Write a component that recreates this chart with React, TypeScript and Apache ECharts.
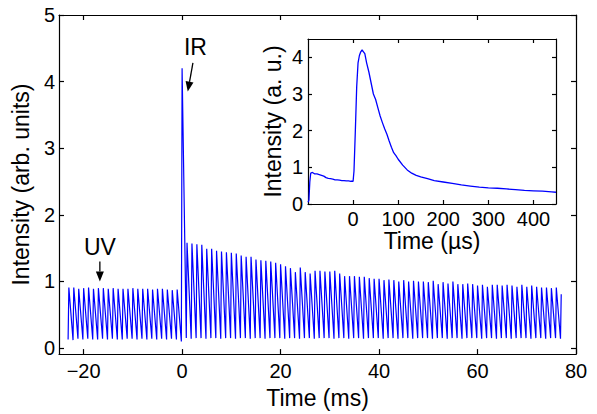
import React, { useEffect, useRef } from "react";
import * as echarts from "echarts";

// ---------- data ----------
// Main trace: one laser pulse every PULSE_PERIOD ms, first at PULSE_START ms
const PULSE_START = -23;
const PULSE_PERIOD = 1;
// peak heights before the IR pulse (t = -23 .. -1 ms)
const preIRPeaks = [
  0.91, 0.91, 0.89, 0.9, 0.91, 0.89, 0.9, 0.9, 0.89, 0.9, 0.89, 0.89, 0.89, 0.9, 0.89,
  0.89, 0.89, 0.88, 0.89, 0.89, 0.88, 0.87, 0.88,
];
// peak at t = 0 ms (IR)
const irPeak = 4.2;
// peak heights after the IR pulse (t = 1 .. 77 ms)
const postIRPeaks = [
  1.58, 1.57, 1.56, 1.55, 1.49, 1.49, 1.46, 1.45, 1.44, 1.43, 1.42, 1.39, 1.37, 1.37, 1.33,
  1.32, 1.31, 1.3, 1.28, 1.26, 1.23, 1.2, 1.14, 1.21, 1.14, 1.12, 1.16, 1.16, 1.15, 1.15,
  1.16, 1.12, 1.08, 1.08, 1.08, 1.07, 1.07, 1.05, 1.04, 1.04, 1.02, 1.03, 1.02, 1.0, 1.02,
  1.0, 1.01, 1.0, 1.0, 0.99, 1.01, 0.96, 0.99, 0.97, 1.0, 0.96, 0.96, 0.97, 0.96, 0.94,
  0.95, 0.92, 0.95, 0.95, 0.94, 0.95, 0.94, 0.92, 0.95, 0.92, 0.94, 0.92, 0.91, 0.91, 0.9,
  0.91, 0.81,
];
// trough reached just before each pulse
const troughs = [
  0.13, 0.12, 0.14, 0.13, 0.14, 0.13, 0.13, 0.14, 0.13, 0.14, 0.13, 0.13, 0.14, 0.14, 0.13,
  0.14, 0.13, 0.14, 0.13, 0.14, 0.13, 0.14, 0.13, 0.1, 0.15, 0.14, 0.15, 0.15, 0.14, 0.15,
  0.15, 0.14, 0.15, 0.15, 0.14, 0.15, 0.15, 0.14, 0.15, 0.15, 0.14, 0.15, 0.15, 0.15, 0.14,
  0.15, 0.15, 0.14, 0.15, 0.15, 0.14, 0.15, 0.15, 0.15, 0.14, 0.15, 0.15, 0.14, 0.15, 0.15,
  0.14, 0.15, 0.15, 0.15, 0.14, 0.15, 0.15, 0.14, 0.15, 0.15, 0.14, 0.15, 0.15, 0.15, 0.14,
  0.15, 0.15, 0.14, 0.15, 0.15, 0.14, 0.15, 0.15, 0.15, 0.14, 0.15, 0.15, 0.14, 0.15, 0.15,
  0.14, 0.15, 0.15, 0.15, 0.14, 0.15, 0.15, 0.14, 0.15, 0.15, 0.14,
];

// Inset trace: time (µs) and intensity (a. u.)
const insetTime = [
  -100, -98, -96, -94, -90, -85, -80, -75, -70, -65, -60, -55, -50, -45, -40, -35, -30, -25,
  -20, -15, -10, -5, 0, 2, 5, 8, 11, 14, 17, 20, 23, 26, 30, 35, 40, 45, 50, 55, 60, 65, 70,
  75, 80, 85, 90, 95, 100, 110, 120, 130, 140, 150, 165, 180, 200, 220, 240, 260, 280, 300,
  320, 340, 360, 380, 400, 420, 440, 450,
];
const insetIntensity = [
  0.05, 0.1, 0.6, 0.84, 0.86, 0.82, 0.82, 0.8, 0.78, 0.76, 0.72, 0.7, 0.69, 0.68, 0.66, 0.66,
  0.65, 0.64, 0.64, 0.63, 0.63, 0.62, 0.62, 0.9, 2.0, 3.2, 3.85, 4.05, 4.15, 4.2, 4.15, 4.1,
  3.85, 3.6, 3.3, 3.0, 2.85, 2.62, 2.4, 2.22, 2.05, 1.9, 1.72, 1.55, 1.4, 1.32, 1.22, 1.06,
  0.93, 0.84, 0.78, 0.74, 0.69, 0.64, 0.6, 0.56, 0.52, 0.49, 0.46, 0.44, 0.43, 0.41, 0.39,
  0.37, 0.36, 0.35, 0.33, 0.32,
];

const mainXTicks = [-20, 0, 20, 40, 60, 80];
const mainYTicks = [0, 1, 2, 3, 4, 5];
const insetXTicks = [0, 100, 200, 300, 400];
const insetYTicks = [0, 1, 2, 3, 4];

const FONT = "'Liberation Sans', Arial, Helvetica, sans-serif";
const FS = 20;
const NAME_FS = 23;

function fmt(v: number) {
  return String(v).replace("-", "\u2212");
}

export default function App() {
  const ref = useRef<HTMLDivElement>(null);
  useEffect(() => {
    const chart = echarts.init(ref.current!, null, { renderer: "svg" });

    const peaks = [...preIRPeaks, irPeak, ...postIRPeaks];
    const mainData: number[][] = [];
    peaks.forEach((pk, i) => {
      const t = PULSE_START + i * PULSE_PERIOD;
      mainData.push([t - 0.15, troughs[i]]);
      mainData.push([t, pk]);
    });
    const insetData = insetTime.map((t, i) => [t, insetIntensity[i]]);

    const lineStyle = { color: "#000", width: 1.2 };
    const mkAxis = (
      grid: number,
      min: number,
      max: number,
      ticks: number[],
      pos: string,
      labels: boolean,
      margin: number,
      extra: any = {}
    ) => ({
      type: "value",
      gridIndex: grid,
      min,
      max,
      position: pos,
      axisLine: { show: true, onZero: false, lineStyle },
      axisTick: { show: true, inside: true, length: grid === 0 ? 5 : 4, customValues: ticks, lineStyle },
      axisLabel: {
        show: labels,
        customValues: ticks,
        formatter: fmt,
        color: "#000",
        fontSize: FS,
        fontFamily: FONT,
        margin,
      },
      splitLine: { show: false },
      ...extra,
    });
    const nameStyle = { color: "#000", fontSize: NAME_FS, fontFamily: FONT };

    chart.setOption({
      animation: false,
      backgroundColor: "#fff",
      grid: [
        { left: 59, top: 15, width: 517, height: 344, containLabel: false },
        { left: 308, top: 39, width: 248, height: 165, containLabel: false },
      ],
      xAxis: [
        mkAxis(0, -25, 80, mainXTicks, "bottom", true, 7, {
          name: "Time (ms)",
          nameLocation: "middle",
          nameGap: 28,
          nameTextStyle: nameStyle,
        }),
        mkAxis(0, -25, 80, mainXTicks, "top", false, 7),
        mkAxis(1, -100, 450, insetXTicks, "bottom", true, 5, {
          name: "Time (\u00b5s)",
          nameLocation: "middle",
          nameGap: 19,
          nameTextStyle: nameStyle,
        }),
        mkAxis(1, -100, 450, insetXTicks, "top", false, 5),
      ],
      yAxis: [
        mkAxis(0, -0.09, 5, mainYTicks, "left", true, 4, {
          name: "Intensity (arb. units)",
          nameLocation: "middle",
          nameGap: 24,
          nameTextStyle: nameStyle,
        }),
        mkAxis(0, -0.09, 5, mainYTicks, "right", false, 4),
        mkAxis(1, 0, 4.5, insetYTicks, "left", true, 5, {
          name: "Intensity (a. u.)",
          nameLocation: "middle",
          nameGap: 24,
          nameTextStyle: nameStyle,
        }),
        mkAxis(1, 0, 4.5, insetYTicks, "right", false, 5),
      ],
      series: [
        {
          type: "line",
          xAxisIndex: 0,
          yAxisIndex: 0,
          data: mainData,
          showSymbol: false,
          symbol: "none",
          lineStyle: { color: "#0000ff", width: 1.2 },
        },
        {
          type: "line",
          xAxisIndex: 2,
          yAxisIndex: 2,
          data: insetData,
          showSymbol: false,
          symbol: "none",
          lineStyle: { color: "#0000ff", width: 1.3 },
        },
      ],
    });

    const px = (x: number, y: number) => chart.convertToPixel({ xAxisIndex: 0, yAxisIndex: 0 }, [x, y]) as number[];
    const arrow = (tail: number[], tip: number[]) => {
      const dx = tip[0] - tail[0];
      const dy = tip[1] - tail[1];
      const len = Math.hypot(dx, dy);
      const ux = dx / len;
      const uy = dy / len;
      const hl = 10;
      const hw = 4;
      const bx = tip[0] - ux * hl;
      const by = tip[1] - uy * hl;
      return [
        {
          type: "line",
          shape: { x1: tail[0], y1: tail[1], x2: bx, y2: by },
          style: { stroke: "#000", lineWidth: 1.3 },
        },
        {
          type: "polygon",
          shape: {
            points: [
              [tip[0], tip[1]],
              [bx - uy * hw, by + ux * hw],
              [bx + uy * hw, by - ux * hw],
            ],
          },
          style: { fill: "#000" },
        },
      ];
    };
    const uvText = px(-16.7, 1.52);
    const uvTail = px(-16.7, 1.3);
    const uvTip = px(-16.7, 1.0);
    const irText = px(2.7, 4.52);
    const irTail = px(2.2, 4.28);
    const irTip = px(1.15, 3.85);
    const txt = (p: number[], s: string) => ({
      type: "text",
      x: p[0],
      y: p[1],
      style: { text: s, font: `${NAME_FS}px ${FONT}`, fill: "#000", align: "center", verticalAlign: "middle" },
    });
    chart.setOption({
      graphic: [txt(uvText, "UV"), ...arrow(uvTail, uvTip), txt(irText, "IR"), ...arrow(irTail, irTip)],
    });

    return () => chart.dispose();
  }, []);
  return (
    <div
      ref={ref}
      style={{ position: "fixed", left: 0, top: 0, width: 597, height: 414, background: "#fff" }}
    />
  );
}
